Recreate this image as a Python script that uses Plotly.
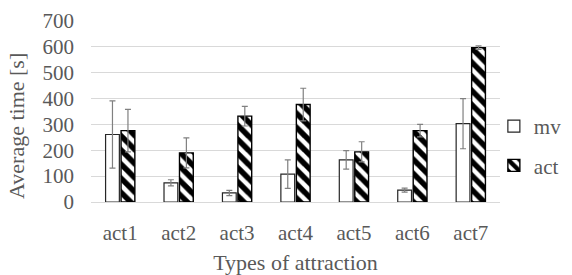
import plotly.graph_objects as go

categories = ["act1", "act2", "act3", "act4", "act5", "act6", "act7"]
mv_values = [261, 74, 35, 108, 163, 46, 303]
mv_errors = [130, 12, 10, 55, 36, 8, 97]
act_values = [276, 190, 332, 377, 194, 276, 597]
act_errors = [82, 58, 38, 63, 39, 24, 7]

FONT = "Liberation Serif"
TXT = "#595959"

fig = go.Figure()
fig.add_trace(go.Bar(
    name="mv", x=categories, y=mv_values,
    marker=dict(color="white", line=dict(color="#262626", width=1.2)),
    error_y=dict(type="data", array=mv_errors, color="#808080", thickness=1.2, width=3),
    legendgroup="a",
))
fig.add_trace(go.Bar(
    name="act", x=categories, y=act_values,
    marker=dict(color="white", line=dict(color="black", width=1.4),
                pattern=dict(shape="\\", fgcolor="#000000", fgopacity=1, bgcolor="white",
                             size=10, solidity=0.55, fillmode="replace")),
    error_y=dict(type="data", array=act_errors, color="#808080", thickness=1.2, width=3),
    legendgroup="b",
))

fig.update_layout(
    width=572, height=275,
    margin=dict(l=91, r=72, t=21, b=73, autoexpand=False),
    paper_bgcolor="white", plot_bgcolor="white",
    font=dict(family=FONT, size=21, color=TXT),
    barmode="group", bargap=0.47, bargroupgap=0.11,
    showlegend=True,
    legend=dict(x=0.985, y=0.31, xanchor="left", yanchor="middle",
                font=dict(family=FONT, size=21, color=TXT), traceorder="grouped",
                tracegroupgap=9, itemwidth=30, bgcolor="rgba(0,0,0,0)"),
    xaxis=dict(
        showgrid=False, showline=True, linecolor="#d9d9d9", linewidth=1,
        ticks="", ticklabelstandoff=12, automargin=False,
        tickfont=dict(family=FONT, size=21, color=TXT),
        title=dict(text="Types of attraction", font=dict(family=FONT, size=22, color=TXT), standoff=11),
    ),
    yaxis=dict(
        range=[0, 700], dtick=100, showgrid=True, gridcolor="#d9d9d9", gridwidth=1,
        zeroline=False, showline=False, ticks="", ticklabelstandoff=16, automargin=False,
        tickfont=dict(family=FONT, size=21, color=TXT),
    ),
    annotations=[dict(
        text="Average time [s]", xref="paper", yref="paper", x=-0.181, y=0.42,
        xanchor="center", yanchor="middle", textangle=-90, showarrow=False,
        font=dict(family=FONT, size=22, color=TXT),
    )],
)

fig.write_html("out.html", config={"displayModeBar": False},
               post_script="document.body.style.margin='0';document.body.style.padding='0';")
